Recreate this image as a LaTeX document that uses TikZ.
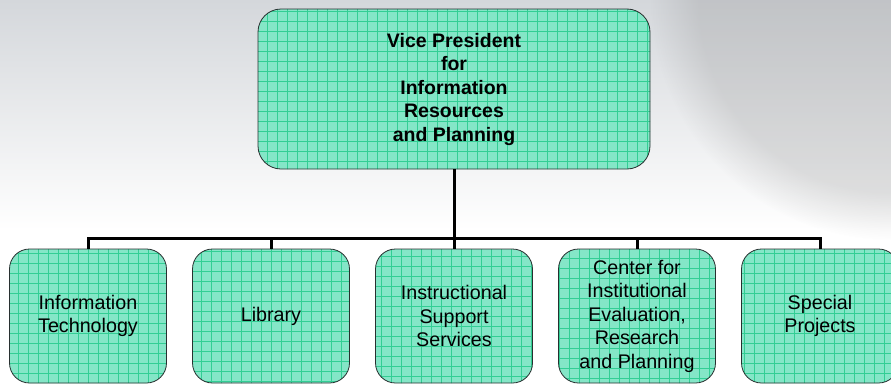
\documentclass[tikz,border=0pt]{standalone}
\usepackage{fontspec}
\setmainfont{Liberation Sans}
\usetikzlibrary{fadings}
\definecolor{boxfill}{RGB}{132,230,199}
\definecolor{gridline}{RGB}{50,206,148}
\definecolor{boxedge}{RGB}{40,48,48}
\definecolor{bgtop}{RGB}{212,215,219}
\tikzset{
  gridbox/.style={draw=boxedge, line width=0.8pt, fill=boxfill, align=center,
    inner sep=0pt,
    path picture={\draw[gridline, line width=0.55pt]
      ([xshift=-10pt,yshift=-10pt]path picture bounding box.south west) grid[step=10pt]
      ([xshift=10pt,yshift=10pt]path picture bounding box.north east);}},
  topbox/.style={gridbox, rounded corners=23pt, minimum width=392pt, minimum height=160pt,
    font=\bfseries\fontsize{19.5}{23.5}\selectfont},
  subbox/.style={gridbox, rounded corners=20pt, minimum width=157pt, minimum height=134pt,
    font=\fontsize{19.7}{23.5}\selectfont},
  conn/.style={line width=3pt, black, line join=miter}
}
\begin{document}
\begin{tikzpicture}[x=1pt,y=-1pt]
\useasboundingbox (0,0) rectangle (891,383);
\shade[top color=bgtop, bottom color=white] (0,0) rectangle (891,230);
\fill[white] (0,230) rectangle (891,383);
\fill[gray, opacity=0.22, path fading=circle with fuzzy edge 20 percent] (891,0) circle (240);

\node[topbox] (vp) at (454,89) {Vice President\\for\\Information\\ Resources\\and Planning};

\node[subbox] (c1) at (88,316) {Information\\Technology};
\node[subbox] (c2) at (271,316) {Library};
\node[subbox] (c3) at (454,316) {Instructional\\Support\\Services};
\node[subbox] (c4) at (637,316) {Center for\\Institutional\\Evaluation,\\Research\\and Planning};
\node[subbox] (c5) at (820,316) {Special\\Projects};

\coordinate (bar) at (454,238);
\draw[conn] (vp.south) -- (bar);
\draw[conn] (c1.north) -- (c1.north |- bar) -- (c5.north |- bar) -- (c5.north);
\draw[conn] (c2.north) -- (c2.north |- bar);
\draw[conn] (c3.north) -- (c3.north |- bar);
\draw[conn] (c4.north) -- (c4.north |- bar);
\end{tikzpicture}
\end{document}
